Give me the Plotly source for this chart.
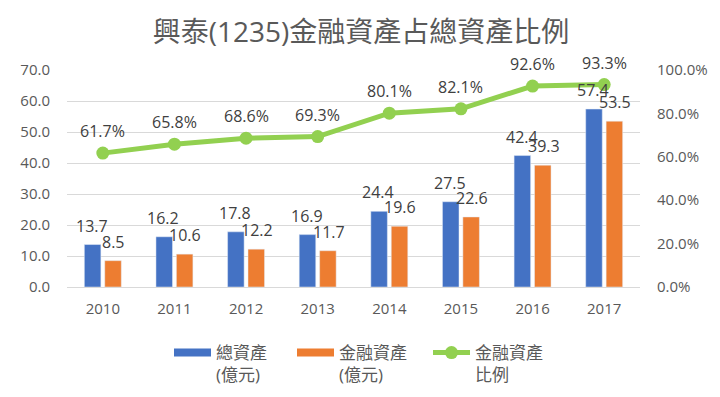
import plotly.graph_objects as go

years = ["2010", "2011", "2012", "2013", "2014", "2015", "2016", "2017"]
total_assets = [13.7, 16.2, 17.8, 16.9, 24.4, 27.5, 42.4, 57.4]
fin_assets = [8.5, 10.6, 12.2, 11.7, 19.6, 22.6, 39.3, 53.5]
fin_ratio = [61.7, 65.8, 68.6, 69.3, 80.1, 82.1, 92.6, 93.3]

name_total = "總資產<br>(億元)"
name_fin = "金融資產<br>(億元)"
name_ratio = "金融資產<br>比例"
title = "興泰(1235)金融資產占總資產比例"

BLUE = "#4472C4"
ORANGE = "#ED7D31"
GREEN = "#92D050"
FONT = "Open Sans, Noto Sans CJK TC, sans-serif"
LABEL_C = "#404040"
TICK_C = "#595959"

# page has an 8px body margin; figure is sized so it fills the 720x397 window
W, H = 712, 389

fig = go.Figure()
fig.add_trace(go.Bar(x=years, y=total_assets, marker_color=BLUE, showlegend=False, name=name_total))
fig.add_trace(go.Bar(x=years, y=fin_assets, marker_color=ORANGE, showlegend=False, name=name_fin))
fig.add_trace(go.Scatter(x=years, y=fin_ratio, yaxis="y2", mode="lines+markers",
                         line=dict(color=GREEN, width=5), marker=dict(color=GREEN, size=13),
                         showlegend=False, name=name_ratio))
# legend entries (wide colour swatches like the original)
fig.add_trace(go.Scatter(x=[None], y=[None], mode="lines", line=dict(color=BLUE, width=8),
                         name=name_total, legend="legend"))
fig.add_trace(go.Scatter(x=[None], y=[None], mode="lines", line=dict(color=ORANGE, width=8),
                         name=name_fin, legend="legend2"))
fig.add_trace(go.Scatter(x=[None], y=[None], mode="lines+markers", line=dict(color=GREEN, width=5),
                         marker=dict(color=GREEN, size=13), name=name_ratio, legend="legend3"))

# annotations use the category index (numeric-looking category strings would be read as indices)
annots = []
for i, v in enumerate(total_assets):
    annots.append(dict(x=i, y=v, xref="x", yref="y", text=f"{v:.1f}", showarrow=False,
                       xshift=-11, yshift=19, font=dict(size=16, color=LABEL_C, family=FONT)))
for i, v in enumerate(fin_assets):
    annots.append(dict(x=i, y=v, xref="x", yref="y", text=f"{v:.1f}", showarrow=False,
                       xshift=11, yshift=19, font=dict(size=16, color=LABEL_C, family=FONT)))
for i, v in enumerate(fin_ratio):
    annots.append(dict(x=i, y=v, xref="x", yref="y2", text=f"{v:.1f}%", showarrow=False,
                       yshift=22, font=dict(size=16, color=LABEL_C, family=FONT)))


def leg(xpx):
    return dict(orientation="h", xref="container", yref="container", x=xpx / W, xanchor="left",
                y=1 - 327 / H, yanchor="top", valign="top", bgcolor="rgba(0,0,0,0)",
                font=dict(size=17, color=TICK_C, family=FONT), itemwidth=37)


fig.update_layout(
    width=W, height=H,
    margin=dict(l=49, r=80, t=62, b=110),
    paper_bgcolor="white", plot_bgcolor="white",
    font=dict(family=FONT, color=TICK_C),
    title=dict(text=title, x=353 / W, xanchor="center", y=1 - 24 / H, yanchor="middle",
               xref="container", yref="container",
               font=dict(size=28, color=TICK_C, family=FONT)),
    barmode="group", bargap=0.43, bargroupgap=0.19,
    xaxis=dict(type="category", range=[-0.5, len(years) - 0.5], showgrid=False, showline=True,
               linecolor="#D9D9D9", linewidth=1,
               tickfont=dict(size=15, color=TICK_C), ticks="", ticklabelstandoff=8),
    yaxis=dict(range=[0, 70], dtick=10, tickformat=".1f", showgrid=True, gridcolor="#D9D9D9",
               gridwidth=1, zeroline=False, tickfont=dict(size=15, color=TICK_C),
               ticks="", ticklabelstandoff=16),
    yaxis2=dict(range=[0, 100], dtick=20, tickformat=".1f", ticksuffix="%", overlaying="y",
                side="right", showgrid=False, zeroline=False, tickfont=dict(size=15, color=TICK_C),
                ticks="", ticklabelstandoff=16),
    legend=leg(161),
    legend2=leg(284),
    legend3=leg(420),
    annotations=annots,
)

fig.write_html("out.html")
